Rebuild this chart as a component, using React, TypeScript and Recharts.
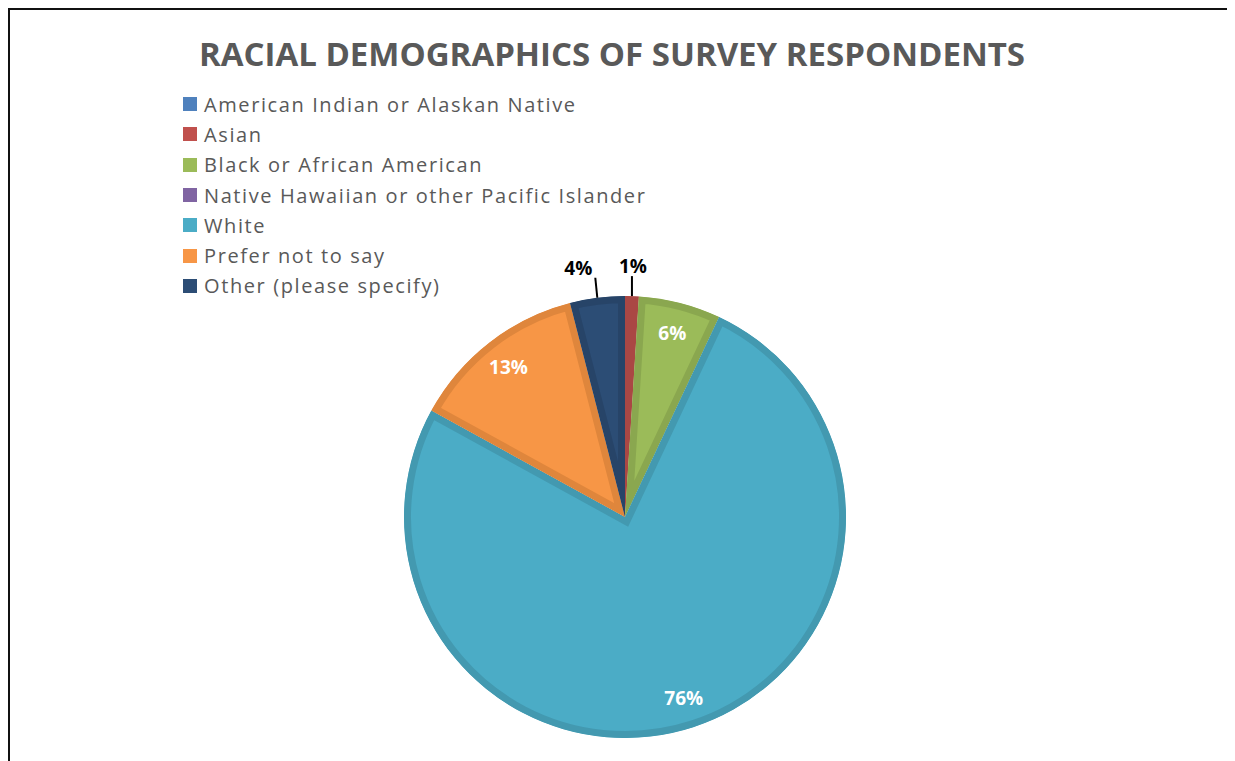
import { PieChart, Pie, Cell, Sector } from 'recharts';

const categories = [
  'American Indian or Alaskan Native',
  'Asian',
  'Black or African American',
  'Native Hawaiian or other Pacific Islander',
  'White',
  'Prefer not to say',
  'Other (please specify)',
];
const shares = [0, 1, 6, 0, 76, 13, 4];
const fills = ['#4F81BD', '#C0504D', '#9BBB59', '#8064A2', '#4BACC6', '#F79646', '#2C4D75'];
const borders = ['#4673A8', '#AA4744', '#8AA74F', '#725990', '#4399B0', '#DF863C', '#274468'];

const data = categories.map((name, i) => ({ name, value: shares[i] }));

const RAD = Math.PI / 180;
const BORDER = 7;

// Excel-style inner border: stroke clipped to the slice itself
const renderSlice = (props: any) => {
  const { cx, cy, innerRadius, outerRadius, startAngle, endAngle } = props;
  const name = props.name ?? props.payload?.name;
  const i = categories.indexOf(name);
  const id = `slice-clip-${i}`;
  return (
    <g>
      <defs>
        <clipPath id={id}>
          <Sector cx={cx} cy={cy} innerRadius={innerRadius} outerRadius={outerRadius} startAngle={startAngle} endAngle={endAngle} />
        </clipPath>
      </defs>
      <Sector
        cx={cx}
        cy={cy}
        innerRadius={innerRadius}
        outerRadius={outerRadius}
        startAngle={startAngle}
        endAngle={endAngle}
        fill={fills[i]}
        stroke={borders[i]}
        strokeWidth={BORDER * 2}
        clipPath={`url(#${id})`}
      />
    </g>
  );
};

const renderLabel = (props: any) => {
  const { cx, cy, midAngle, outerRadius, value, percent } = props;
  if (!value) return null;
  const cos = Math.cos(-midAngle * RAD);
  const sin = Math.sin(-midAngle * RAD);
  const font = { fontFamily: 'Open Sans', fontWeight: 700, fontSize: 19 };
  if (percent < 0.05) {
    const x0 = cx + outerRadius * cos;
    const y0 = cy + outerRadius * sin;
    const y1 = y0 - 20;
    const left = x0 < cx - 10;
    return (
      <g>
        <line x1={x0} y1={y0} x2={left ? x0 - 2 : x0} y2={y1} stroke="#000" strokeWidth={2} />
        <text x={left ? x0 - 5 : x0 + 1} y={y1 - 3} textAnchor={left ? 'end' : 'middle'} fill="#000" {...font}>
          {`${value}%`}
        </text>
      </g>
    );
  }
  const r = outerRadius * 0.86;
  return (
    <text x={cx + r * cos} y={cy + r * sin} fill="#fff" textAnchor="middle" dominantBaseline="central" {...font}>
      {`${value}%`}
    </text>
  );
};

const LegendList = () => (
  <div style={{ fontFamily: 'Open Sans', fontSize: 20, letterSpacing: 1.6, color: '#595959' }}>
    {categories.map((name, i) => (
      <div key={name} style={{ display: 'flex', alignItems: 'center', height: 30.3, whiteSpace: 'nowrap' }}>
        <span style={{ width: 14, height: 14, background: fills[i], marginRight: 7, flex: 'none' }} />
        <span>{name}</span>
      </div>
    ))}
  </div>
);

export default function App() {
  return (
    <div style={{ position: 'relative', width: 1227, height: 753, overflow: 'hidden' }}>
      <div
        style={{
          position: 'absolute',
          left: 0,
          top: 0,
          width: 1260,
          height: 780,
          boxSizing: 'border-box',
          border: '2px solid #111',
        }}
      />
      <div
        style={{
          position: 'absolute',
          left: 0,
          top: 26,
          width: 1208,
          textAlign: 'center',
          fontFamily: 'Open Sans',
          fontWeight: 700,
          fontSize: 33,
          color: '#595959',
          lineHeight: '40px',
          whiteSpace: 'nowrap',
        }}
      >
        RACIAL DEMOGRAPHICS OF SURVEY RESPONDENTS
      </div>
      <PieChart
        width={1227}
        height={753}
        margin={{ top: 0, right: 0, bottom: 0, left: 0 }}
        style={{ position: 'absolute', left: 0, top: 0 }}
      >
        <Pie
          data={data}
          dataKey="value"
          nameKey="name"
          cx={617}
          cy={509}
          outerRadius={221}
          startAngle={90}
          endAngle={-270}
          stroke="none"
          shape={renderSlice}
          label={renderLabel}
          labelLine={false}
          isAnimationActive={false}
        >
          {data.map((d, i) => (
            <Cell key={d.name} fill={fills[i]} />
          ))}
        </Pie>
      </PieChart>
      <div style={{ position: 'absolute', left: 175, top: 81 }}>
        <LegendList />
      </div>
    </div>
  );
}
